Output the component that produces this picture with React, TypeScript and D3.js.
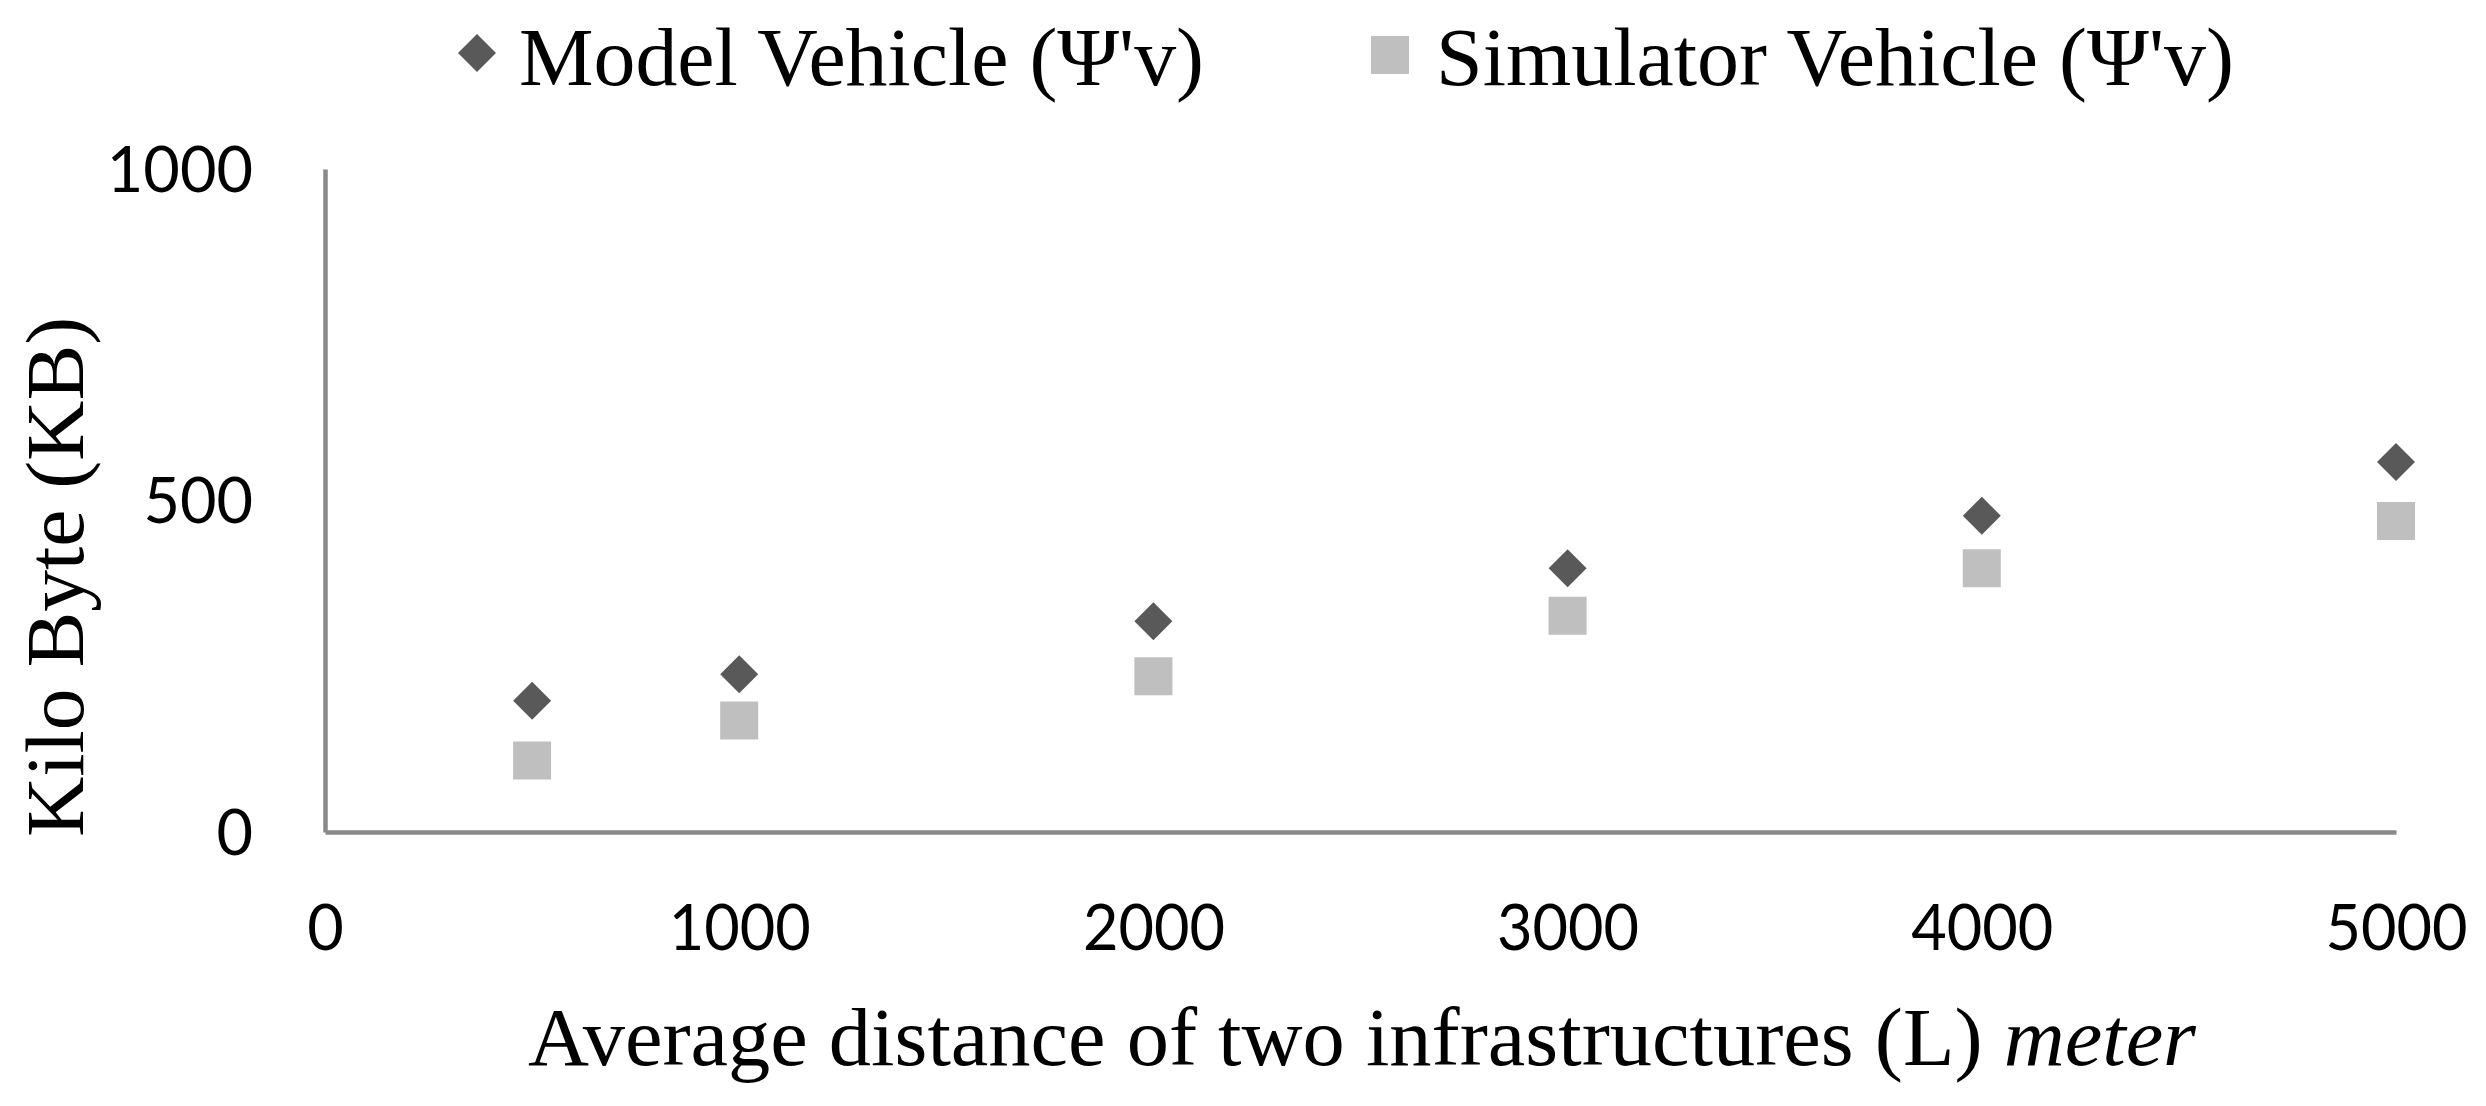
import React, { useEffect, useRef } from 'react'
import * as d3 from 'd3'

// distances (m) and kilobytes
const distances = [500, 1000, 2000, 3000, 4000, 5000]
const modelKB = [198, 238, 318, 398, 477, 558]
const simulatorKB = [108, 168, 235, 326, 398, 469]
const xTicks = [0, 1000, 2000, 3000, 4000, 5000]
const yTicks = [0, 500, 1000]

const W = 2486
const H = 1106
const margin = { top: 169, right: 90, bottom: 274, left: 325 }

const serif = '"Liberation Serif", "Times New Roman", serif'
const sans = 'Lato, "Open Sans", sans-serif'

const App: React.FC = () => {
  const ref = useRef<SVGSVGElement>(null)

  useEffect(() => {
    const root = d3.select(ref.current)
    root.selectAll('*').remove()

    const width = W - margin.left - margin.right
    const height = H - margin.top - margin.bottom

    const x = d3.scaleLinear().domain([0, 5000]).range([0, width])
    const y = d3.scaleLinear().domain([0, 1000]).range([height, 0])

    const svg = root
      .append('g')
      .attr('transform', `translate(${margin.left},${margin.top})`)

    const axisColor = '#898989'
    const fmt = d3.format('d')

    const gx = svg
      .append('g')
      .attr('transform', `translate(0,${height})`)
      .call(d3.axisBottom(x).tickValues(xTicks).tickFormat(fmt).tickSize(0).tickSizeOuter(0))
    gx.select('.domain').attr('stroke', axisColor).attr('stroke-width', 4.5)
    gx.selectAll('text')
      .attr('y', 118)
      .attr('dy', 0)
      .attr('font-family', sans)
      .attr('font-size', 63)
      .attr('textLength', 142)
      .attr('lengthAdjust', 'spacingAndGlyphs')
      .attr('fill', '#000')
    gx.selectAll('text').filter((d) => d === 0).attr('textLength', null)

    const gy = svg
      .append('g')
      .call(d3.axisLeft(y).tickValues(yTicks).tickFormat(fmt).tickSize(0).tickSizeOuter(0))
    gy.select('.domain').attr('stroke', axisColor).attr('stroke-width', 4.5)
    gy.selectAll('text')
      .attr('x', -72)
      .attr('dy', '0.35em')
      .attr('font-family', sans)
      .attr('font-size', 63)
      .attr('fill', '#000')

    const diamond = d3.symbol().type(d3.symbolSquare).size(722)
    const square = d3.symbol().type(d3.symbolSquare).size(1444)

    svg
      .append('g')
      .selectAll('path')
      .data(distances)
      .join('path')
      .attr('d', square)
      .attr('transform', (d, i) => `translate(${x(d)},${y(simulatorKB[i])})`)
      .attr('fill', '#bfbfbf')

    svg
      .append('g')
      .selectAll('path')
      .data(distances)
      .join('path')
      .attr('d', diamond)
      .attr('transform', (d, i) => `translate(${x(d)},${y(modelKB[i])}) rotate(45)`)
      .attr('fill', '#595959')

    // axis titles
    const xt = root
      .append('text')
      .attr('x', 528)
      .attr('y', 1065)
      .attr('font-family', serif)
      .attr('font-size', 83)
      .attr('textLength', 1668)
      .attr('lengthAdjust', 'spacingAndGlyphs')
    xt.append('tspan').text('Average distance of two infrastructures (L) ')
    xt.append('tspan').attr('font-style', 'italic').text('meter')

    root
      .append('text')
      .attr('transform', 'translate(83,577) rotate(-90)')
      .attr('text-anchor', 'middle')
      .attr('font-family', serif)
      .attr('font-size', 83)
      .attr('textLength', 520)
      .attr('lengthAdjust', 'spacingAndGlyphs')
      .text('Kilo Byte (KB)')

    // legend
    const legend = root.append('g')
    legend
      .append('path')
      .attr('d', diamond)
      .attr('transform', 'translate(477,53) rotate(45)')
      .attr('fill', '#595959')
    legend
      .append('text')
      .attr('x', 519)
      .attr('y', 85)
      .attr('font-family', serif)
      .attr('font-size', 83)
      .attr('textLength', 685)
      .attr('lengthAdjust', 'spacingAndGlyphs')
      .text("Model Vehicle (Ψ'v)")
    legend
      .append('path')
      .attr('d', square)
      .attr('transform', 'translate(1390,55)')
      .attr('fill', '#bfbfbf')
    legend
      .append('text')
      .attr('x', 1436)
      .attr('y', 85)
      .attr('font-family', serif)
      .attr('font-size', 83)
      .attr('textLength', 798)
      .attr('lengthAdjust', 'spacingAndGlyphs')
      .text("Simulator Vehicle (Ψ'v)")
  }, [])

  return (
    <div style={{ position: 'absolute', top: 0, left: 0, background: '#fff' }}>
      <svg ref={ref} width={W} height={H} style={{ display: 'block' }} />
    </div>
  )
}

export default App
